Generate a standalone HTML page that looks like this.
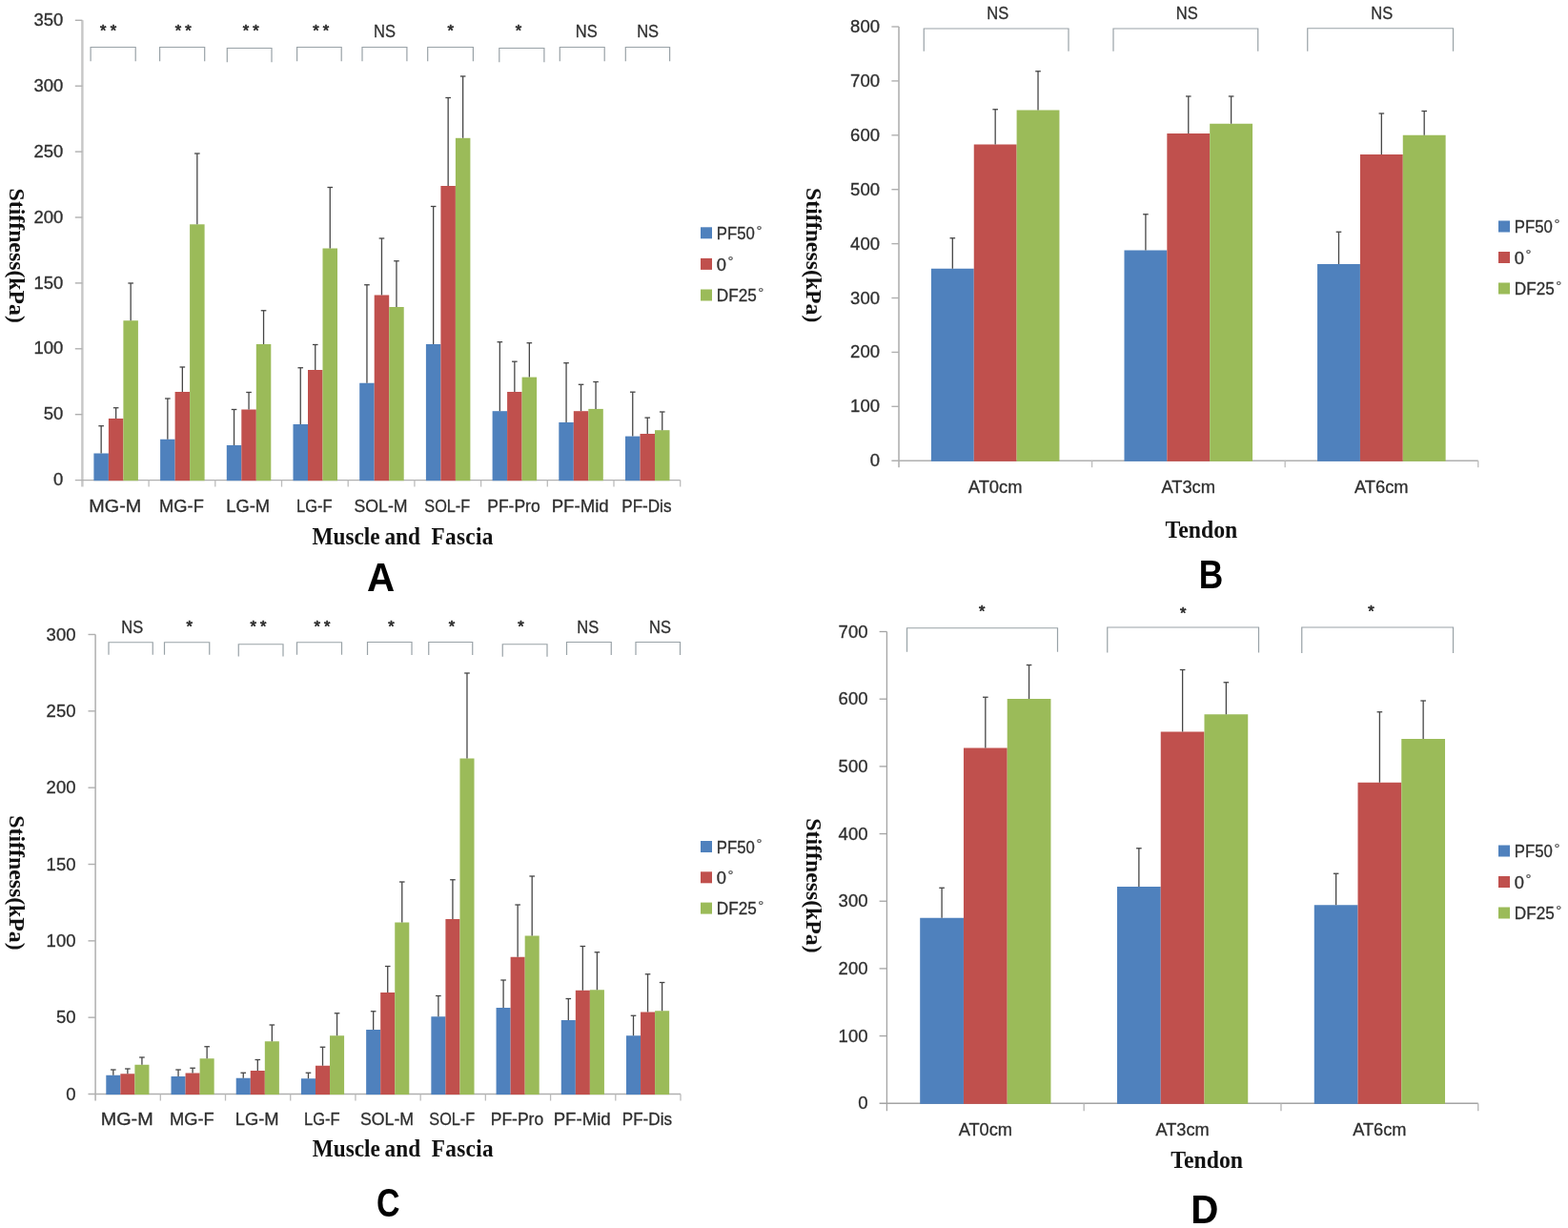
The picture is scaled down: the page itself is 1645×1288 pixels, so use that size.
<!DOCTYPE html>
<html lang="en">
<head>
<meta charset="utf-8">
<title>Stiffness of muscle, fascia and tendon at three ankle positions</title>
<style>
html,body{margin:0;padding:0;background:#fff;}
body{width:1645px;height:1288px;overflow:hidden;}
svg{display:block;filter:blur(0.55px);}
</style>
</head>
<body>
<svg width="1645" height="1288" viewBox="0 0 1645 1288">
<rect x="-5" y="-5" width="1655" height="1298" fill="#ffffff"/>
<g id="panel-A">
<line x1="86.4" y1="21.3" x2="86.4" y2="510.6" stroke="#c6c6c6" stroke-width="2.4"/>
<line x1="78.8" y1="503.6" x2="713.7" y2="503.6" stroke="#b0b0b0" stroke-width="1.4"/>
<line x1="78.8" y1="434.7" x2="86.4" y2="434.7" stroke="#b0b0b0" stroke-width="1.4"/>
<line x1="78.8" y1="365.8" x2="86.4" y2="365.8" stroke="#b0b0b0" stroke-width="1.4"/>
<line x1="78.8" y1="296.9" x2="86.4" y2="296.9" stroke="#b0b0b0" stroke-width="1.4"/>
<line x1="78.8" y1="228" x2="86.4" y2="228" stroke="#b0b0b0" stroke-width="1.4"/>
<line x1="78.8" y1="159.1" x2="86.4" y2="159.1" stroke="#b0b0b0" stroke-width="1.4"/>
<line x1="78.8" y1="90.2" x2="86.4" y2="90.2" stroke="#b0b0b0" stroke-width="1.4"/>
<line x1="78.8" y1="21.3" x2="86.4" y2="21.3" stroke="#b0b0b0" stroke-width="1.4"/>
<line x1="156.1" y1="503.6" x2="156.1" y2="510.6" stroke="#bcbcbc" stroke-width="1.3"/>
<line x1="225.8" y1="503.6" x2="225.8" y2="510.6" stroke="#bcbcbc" stroke-width="1.3"/>
<line x1="295.5" y1="503.6" x2="295.5" y2="510.6" stroke="#bcbcbc" stroke-width="1.3"/>
<line x1="365.2" y1="503.6" x2="365.2" y2="510.6" stroke="#bcbcbc" stroke-width="1.3"/>
<line x1="434.9" y1="503.6" x2="434.9" y2="510.6" stroke="#bcbcbc" stroke-width="1.3"/>
<line x1="504.6" y1="503.6" x2="504.6" y2="510.6" stroke="#bcbcbc" stroke-width="1.3"/>
<line x1="574.3" y1="503.6" x2="574.3" y2="510.6" stroke="#bcbcbc" stroke-width="1.3"/>
<line x1="644" y1="503.6" x2="644" y2="510.6" stroke="#bcbcbc" stroke-width="1.3"/>
<line x1="713.7" y1="503.6" x2="713.7" y2="510.6" stroke="#bcbcbc" stroke-width="1.3"/>
<rect x="98.4" y="475.5" width="15.5" height="28.7" fill="#4f81bd"/>
<rect x="113.9" y="439" width="15.5" height="65.2" fill="#c0504d"/>
<rect x="129.4" y="336.25" width="15.5" height="167.95" fill="#9bbb59"/>
<line x1="106.15" y1="446.75" x2="106.15" y2="475.5" stroke="#464646" stroke-width="1.3"/>
<line x1="103.35" y1="446.75" x2="108.95" y2="446.75" stroke="#464646" stroke-width="1.3"/>
<line x1="121.65" y1="427.75" x2="121.65" y2="439" stroke="#464646" stroke-width="1.3"/>
<line x1="118.85" y1="427.75" x2="124.45" y2="427.75" stroke="#464646" stroke-width="1.3"/>
<line x1="137.15" y1="297" x2="137.15" y2="336.25" stroke="#464646" stroke-width="1.3"/>
<line x1="134.35" y1="297" x2="139.95" y2="297" stroke="#464646" stroke-width="1.3"/>
<rect x="168.1" y="460.75" width="15.5" height="43.45" fill="#4f81bd"/>
<rect x="183.6" y="411" width="15.5" height="93.2" fill="#c0504d"/>
<rect x="199.1" y="235.3" width="15.5" height="268.9" fill="#9bbb59"/>
<line x1="175.85" y1="418" x2="175.85" y2="460.75" stroke="#464646" stroke-width="1.3"/>
<line x1="173.05" y1="418" x2="178.65" y2="418" stroke="#464646" stroke-width="1.3"/>
<line x1="191.35" y1="385" x2="191.35" y2="411" stroke="#464646" stroke-width="1.3"/>
<line x1="188.55" y1="385" x2="194.15" y2="385" stroke="#464646" stroke-width="1.3"/>
<line x1="206.85" y1="161" x2="206.85" y2="235.3" stroke="#464646" stroke-width="1.3"/>
<line x1="204.05" y1="161" x2="209.65" y2="161" stroke="#464646" stroke-width="1.3"/>
<rect x="237.8" y="467" width="15.5" height="37.2" fill="#4f81bd"/>
<rect x="253.3" y="429.5" width="15.5" height="74.7" fill="#c0504d"/>
<rect x="268.8" y="361" width="15.5" height="143.2" fill="#9bbb59"/>
<line x1="245.55" y1="429.5" x2="245.55" y2="467" stroke="#464646" stroke-width="1.3"/>
<line x1="242.75" y1="429.5" x2="248.35" y2="429.5" stroke="#464646" stroke-width="1.3"/>
<line x1="261.05" y1="411.5" x2="261.05" y2="429.5" stroke="#464646" stroke-width="1.3"/>
<line x1="258.25" y1="411.5" x2="263.85" y2="411.5" stroke="#464646" stroke-width="1.3"/>
<line x1="276.55" y1="325.75" x2="276.55" y2="361" stroke="#464646" stroke-width="1.3"/>
<line x1="273.75" y1="325.75" x2="279.35" y2="325.75" stroke="#464646" stroke-width="1.3"/>
<rect x="307.5" y="445" width="15.5" height="59.2" fill="#4f81bd"/>
<rect x="323" y="388" width="15.5" height="116.2" fill="#c0504d"/>
<rect x="338.5" y="260.5" width="15.5" height="243.7" fill="#9bbb59"/>
<line x1="315.25" y1="385.75" x2="315.25" y2="445" stroke="#464646" stroke-width="1.3"/>
<line x1="312.45" y1="385.75" x2="318.05" y2="385.75" stroke="#464646" stroke-width="1.3"/>
<line x1="330.75" y1="361.5" x2="330.75" y2="388" stroke="#464646" stroke-width="1.3"/>
<line x1="327.95" y1="361.5" x2="333.55" y2="361.5" stroke="#464646" stroke-width="1.3"/>
<line x1="346.25" y1="196.5" x2="346.25" y2="260.5" stroke="#464646" stroke-width="1.3"/>
<line x1="343.45" y1="196.5" x2="349.05" y2="196.5" stroke="#464646" stroke-width="1.3"/>
<rect x="377.2" y="401.75" width="15.5" height="102.45" fill="#4f81bd"/>
<rect x="392.7" y="309.5" width="15.5" height="194.7" fill="#c0504d"/>
<rect x="408.2" y="322" width="15.5" height="182.2" fill="#9bbb59"/>
<line x1="384.95" y1="298.75" x2="384.95" y2="401.75" stroke="#464646" stroke-width="1.3"/>
<line x1="382.15" y1="298.75" x2="387.75" y2="298.75" stroke="#464646" stroke-width="1.3"/>
<line x1="400.45" y1="250" x2="400.45" y2="309.5" stroke="#464646" stroke-width="1.3"/>
<line x1="397.65" y1="250" x2="403.25" y2="250" stroke="#464646" stroke-width="1.3"/>
<line x1="415.95" y1="273.75" x2="415.95" y2="322" stroke="#464646" stroke-width="1.3"/>
<line x1="413.15" y1="273.75" x2="418.75" y2="273.75" stroke="#464646" stroke-width="1.3"/>
<rect x="446.9" y="361" width="15.5" height="143.2" fill="#4f81bd"/>
<rect x="462.4" y="195" width="15.5" height="309.2" fill="#c0504d"/>
<rect x="477.9" y="144.8" width="15.5" height="359.4" fill="#9bbb59"/>
<line x1="454.65" y1="216.5" x2="454.65" y2="361" stroke="#464646" stroke-width="1.3"/>
<line x1="451.85" y1="216.5" x2="457.45" y2="216.5" stroke="#464646" stroke-width="1.3"/>
<line x1="470.15" y1="102.5" x2="470.15" y2="195" stroke="#464646" stroke-width="1.3"/>
<line x1="467.35" y1="102.5" x2="472.95" y2="102.5" stroke="#464646" stroke-width="1.3"/>
<line x1="485.65" y1="80" x2="485.65" y2="144.8" stroke="#464646" stroke-width="1.3"/>
<line x1="482.85" y1="80" x2="488.45" y2="80" stroke="#464646" stroke-width="1.3"/>
<rect x="516.6" y="431.2" width="15.5" height="73" fill="#4f81bd"/>
<rect x="532.1" y="411" width="15.5" height="93.2" fill="#c0504d"/>
<rect x="547.6" y="395.6" width="15.5" height="108.6" fill="#9bbb59"/>
<line x1="524.35" y1="358.7" x2="524.35" y2="431.2" stroke="#464646" stroke-width="1.3"/>
<line x1="521.55" y1="358.7" x2="527.15" y2="358.7" stroke="#464646" stroke-width="1.3"/>
<line x1="539.85" y1="379.2" x2="539.85" y2="411" stroke="#464646" stroke-width="1.3"/>
<line x1="537.05" y1="379.2" x2="542.65" y2="379.2" stroke="#464646" stroke-width="1.3"/>
<line x1="555.35" y1="359.7" x2="555.35" y2="395.6" stroke="#464646" stroke-width="1.3"/>
<line x1="552.55" y1="359.7" x2="558.15" y2="359.7" stroke="#464646" stroke-width="1.3"/>
<rect x="586.3" y="443" width="15.5" height="61.2" fill="#4f81bd"/>
<rect x="601.8" y="431.2" width="15.5" height="73" fill="#c0504d"/>
<rect x="617.3" y="428.9" width="15.5" height="75.3" fill="#9bbb59"/>
<line x1="594.05" y1="380.7" x2="594.05" y2="443" stroke="#464646" stroke-width="1.3"/>
<line x1="591.25" y1="380.7" x2="596.85" y2="380.7" stroke="#464646" stroke-width="1.3"/>
<line x1="609.55" y1="403.3" x2="609.55" y2="431.2" stroke="#464646" stroke-width="1.3"/>
<line x1="606.75" y1="403.3" x2="612.35" y2="403.3" stroke="#464646" stroke-width="1.3"/>
<line x1="625.05" y1="400.5" x2="625.05" y2="428.9" stroke="#464646" stroke-width="1.3"/>
<line x1="622.25" y1="400.5" x2="627.85" y2="400.5" stroke="#464646" stroke-width="1.3"/>
<rect x="656" y="457.6" width="15.5" height="46.6" fill="#4f81bd"/>
<rect x="671.5" y="455" width="15.5" height="49.2" fill="#c0504d"/>
<rect x="687" y="451.2" width="15.5" height="53" fill="#9bbb59"/>
<line x1="663.75" y1="411.2" x2="663.75" y2="457.6" stroke="#464646" stroke-width="1.3"/>
<line x1="660.95" y1="411.2" x2="666.55" y2="411.2" stroke="#464646" stroke-width="1.3"/>
<line x1="679.25" y1="438.1" x2="679.25" y2="455" stroke="#464646" stroke-width="1.3"/>
<line x1="676.45" y1="438.1" x2="682.05" y2="438.1" stroke="#464646" stroke-width="1.3"/>
<line x1="694.75" y1="432" x2="694.75" y2="451.2" stroke="#464646" stroke-width="1.3"/>
<line x1="691.95" y1="432" x2="697.55" y2="432" stroke="#464646" stroke-width="1.3"/>
<text x="66.3" y="509.2" font-family="'Liberation Sans', 'DejaVu Sans', sans-serif" font-size="18.3" font-weight="normal" text-anchor="end" fill="#2e2e2e" stroke="#2e2e2e" stroke-width="0.3" textLength="10.29" lengthAdjust="spacingAndGlyphs">0</text>
<text x="66.3" y="440.3" font-family="'Liberation Sans', 'DejaVu Sans', sans-serif" font-size="18.3" font-weight="normal" text-anchor="end" fill="#2e2e2e" stroke="#2e2e2e" stroke-width="0.3" textLength="20.58" lengthAdjust="spacingAndGlyphs">50</text>
<text x="66.3" y="371.4" font-family="'Liberation Sans', 'DejaVu Sans', sans-serif" font-size="18.3" font-weight="normal" text-anchor="end" fill="#2e2e2e" stroke="#2e2e2e" stroke-width="0.3" textLength="30.88" lengthAdjust="spacingAndGlyphs">100</text>
<text x="66.3" y="302.5" font-family="'Liberation Sans', 'DejaVu Sans', sans-serif" font-size="18.3" font-weight="normal" text-anchor="end" fill="#2e2e2e" stroke="#2e2e2e" stroke-width="0.3" textLength="30.88" lengthAdjust="spacingAndGlyphs">150</text>
<text x="66.3" y="233.6" font-family="'Liberation Sans', 'DejaVu Sans', sans-serif" font-size="18.3" font-weight="normal" text-anchor="end" fill="#2e2e2e" stroke="#2e2e2e" stroke-width="0.3" textLength="30.88" lengthAdjust="spacingAndGlyphs">200</text>
<text x="66.3" y="164.7" font-family="'Liberation Sans', 'DejaVu Sans', sans-serif" font-size="18.3" font-weight="normal" text-anchor="end" fill="#2e2e2e" stroke="#2e2e2e" stroke-width="0.3" textLength="30.88" lengthAdjust="spacingAndGlyphs">250</text>
<text x="66.3" y="95.8" font-family="'Liberation Sans', 'DejaVu Sans', sans-serif" font-size="18.3" font-weight="normal" text-anchor="end" fill="#2e2e2e" stroke="#2e2e2e" stroke-width="0.3" textLength="30.88" lengthAdjust="spacingAndGlyphs">300</text>
<text x="66.3" y="26.9" font-family="'Liberation Sans', 'DejaVu Sans', sans-serif" font-size="18.3" font-weight="normal" text-anchor="end" fill="#2e2e2e" stroke="#2e2e2e" stroke-width="0.3" textLength="30.88" lengthAdjust="spacingAndGlyphs">350</text>
<text x="120.75" y="536.9" font-family="'Liberation Sans', 'DejaVu Sans', sans-serif" font-size="18.3" font-weight="normal" text-anchor="middle" fill="#2e2e2e" stroke="#2e2e2e" stroke-width="0.3" textLength="54.93" lengthAdjust="spacingAndGlyphs">MG-M</text>
<text x="190.45" y="536.9" font-family="'Liberation Sans', 'DejaVu Sans', sans-serif" font-size="18.3" font-weight="normal" text-anchor="middle" fill="#2e2e2e" stroke="#2e2e2e" stroke-width="0.3" textLength="46.71" lengthAdjust="spacingAndGlyphs">MG-F</text>
<text x="260.15" y="536.9" font-family="'Liberation Sans', 'DejaVu Sans', sans-serif" font-size="18.3" font-weight="normal" text-anchor="middle" fill="#2e2e2e" stroke="#2e2e2e" stroke-width="0.3" textLength="45.9" lengthAdjust="spacingAndGlyphs">LG-M</text>
<text x="329.85" y="536.9" font-family="'Liberation Sans', 'DejaVu Sans', sans-serif" font-size="18.3" font-weight="normal" text-anchor="middle" fill="#2e2e2e" stroke="#2e2e2e" stroke-width="0.3" textLength="37.68" lengthAdjust="spacingAndGlyphs">LG-F</text>
<text x="399.55" y="536.9" font-family="'Liberation Sans', 'DejaVu Sans', sans-serif" font-size="18.3" font-weight="normal" text-anchor="middle" fill="#2e2e2e" stroke="#2e2e2e" stroke-width="0.3" textLength="56.07" lengthAdjust="spacingAndGlyphs">SOL-M</text>
<text x="469.25" y="536.9" font-family="'Liberation Sans', 'DejaVu Sans', sans-serif" font-size="18.3" font-weight="normal" text-anchor="middle" fill="#2e2e2e" stroke="#2e2e2e" stroke-width="0.3" textLength="47.85" lengthAdjust="spacingAndGlyphs">SOL-F</text>
<text x="538.95" y="536.9" font-family="'Liberation Sans', 'DejaVu Sans', sans-serif" font-size="18.3" font-weight="normal" text-anchor="middle" fill="#2e2e2e" stroke="#2e2e2e" stroke-width="0.3" textLength="55.51" lengthAdjust="spacingAndGlyphs">PF-Pro</text>
<text x="608.65" y="536.9" font-family="'Liberation Sans', 'DejaVu Sans', sans-serif" font-size="18.3" font-weight="normal" text-anchor="middle" fill="#2e2e2e" stroke="#2e2e2e" stroke-width="0.3" textLength="59.99" lengthAdjust="spacingAndGlyphs">PF-Mid</text>
<text x="678.35" y="536.9" font-family="'Liberation Sans', 'DejaVu Sans', sans-serif" font-size="18.3" font-weight="normal" text-anchor="middle" fill="#2e2e2e" stroke="#2e2e2e" stroke-width="0.3" textLength="52.23" lengthAdjust="spacingAndGlyphs">PF-Dis</text>
<path d="M95.1 64.3 V49.5 H142.2 V64.3" fill="none" stroke="#99a2a7" stroke-width="1.2"/>
<text x="108.3 118.9" y="37.6" font-family="'Liberation Sans', 'DejaVu Sans', sans-serif" font-size="16.5" text-anchor="middle" fill="#2e2e2e" stroke="#2e2e2e" stroke-width="0.7">**</text>
<path d="M167.6 64.3 V49.5 H214.7 V64.3" fill="none" stroke="#99a2a7" stroke-width="1.2"/>
<text x="186.9 197.5" y="37.6" font-family="'Liberation Sans', 'DejaVu Sans', sans-serif" font-size="16.5" text-anchor="middle" fill="#2e2e2e" stroke="#2e2e2e" stroke-width="0.7">**</text>
<path d="M238.3 65.3 V50.5 H285 V65.3" fill="none" stroke="#99a2a7" stroke-width="1.2"/>
<text x="257.9 268.5" y="37.6" font-family="'Liberation Sans', 'DejaVu Sans', sans-serif" font-size="16.5" text-anchor="middle" fill="#2e2e2e" stroke="#2e2e2e" stroke-width="0.7">**</text>
<path d="M311.6 64.3 V49.5 H358.2 V64.3" fill="none" stroke="#99a2a7" stroke-width="1.2"/>
<text x="331.4 342" y="37.6" font-family="'Liberation Sans', 'DejaVu Sans', sans-serif" font-size="16.5" text-anchor="middle" fill="#2e2e2e" stroke="#2e2e2e" stroke-width="0.7">**</text>
<path d="M380 64.3 V49.5 H426.9 V64.3" fill="none" stroke="#99a2a7" stroke-width="1.2"/>
<text x="403.5" y="39" font-family="'Liberation Sans', 'DejaVu Sans', sans-serif" font-size="18.3" font-weight="normal" text-anchor="middle" fill="#2e2e2e" stroke="#2e2e2e" stroke-width="0.3" textLength="22.93" lengthAdjust="spacingAndGlyphs">NS</text>
<path d="M448.7 64.3 V49.5 H496.4 V64.3" fill="none" stroke="#99a2a7" stroke-width="1.2"/>
<text x="472.8" y="37.6" font-family="'Liberation Sans', 'DejaVu Sans', sans-serif" font-size="16.5" text-anchor="middle" fill="#2e2e2e" stroke="#2e2e2e" stroke-width="0.7">*</text>
<path d="M523.8 65.3 V50.5 H570.9 V65.3" fill="none" stroke="#99a2a7" stroke-width="1.2"/>
<text x="544" y="37.6" font-family="'Liberation Sans', 'DejaVu Sans', sans-serif" font-size="16.5" text-anchor="middle" fill="#2e2e2e" stroke="#2e2e2e" stroke-width="0.7">*</text>
<path d="M587.3 64.3 V49.5 H634.2 V64.3" fill="none" stroke="#99a2a7" stroke-width="1.2"/>
<text x="615.3" y="39" font-family="'Liberation Sans', 'DejaVu Sans', sans-serif" font-size="18.3" font-weight="normal" text-anchor="middle" fill="#2e2e2e" stroke="#2e2e2e" stroke-width="0.3" textLength="22.93" lengthAdjust="spacingAndGlyphs">NS</text>
<path d="M656.3 64.3 V49.5 H702.6 V64.3" fill="none" stroke="#99a2a7" stroke-width="1.2"/>
<text x="679.6" y="39" font-family="'Liberation Sans', 'DejaVu Sans', sans-serif" font-size="18.3" font-weight="normal" text-anchor="middle" fill="#2e2e2e" stroke="#2e2e2e" stroke-width="0.3" textLength="22.93" lengthAdjust="spacingAndGlyphs">NS</text>
<rect x="735" y="238.3" width="12" height="12" fill="#4f81bd"/>
<text x="751.8" y="251.1" font-family="'Liberation Sans', 'DejaVu Sans', sans-serif" font-size="17.7" fill="#2e2e2e" stroke="#2e2e2e" stroke-width="0.3"><tspan textLength="40" lengthAdjust="spacingAndGlyphs">PF50</tspan><tspan dx="1.6" dy="-4.6" font-size="15" fill="#555" stroke="#555">°</tspan></text>
<rect x="735" y="270.9" width="12" height="12" fill="#c0504d"/>
<text x="751.8" y="283.7" font-family="'Liberation Sans', 'DejaVu Sans', sans-serif" font-size="17.7" fill="#2e2e2e" stroke="#2e2e2e" stroke-width="0.3"><tspan textLength="10.19" lengthAdjust="spacingAndGlyphs">0</tspan><tspan dx="1.6" dy="-4.6" font-size="15" fill="#555" stroke="#555">°</tspan></text>
<rect x="735" y="303.5" width="12" height="12" fill="#9bbb59"/>
<text x="751.8" y="316.3" font-family="'Liberation Sans', 'DejaVu Sans', sans-serif" font-size="17.7" fill="#2e2e2e" stroke="#2e2e2e" stroke-width="0.3"><tspan textLength="41.97" lengthAdjust="spacingAndGlyphs">DF25</tspan><tspan dx="1.6" dy="-4.6" font-size="15" fill="#555" stroke="#555">°</tspan></text>
<text transform="translate(327.6 570.5) scale(0.95 1)" font-family="'Liberation Serif', 'DejaVu Serif', serif" font-size="24.5" font-weight="bold" fill="#111" xml:space="preserve" style="white-space:pre">Muscle<tspan dx="-1.1"> and</tspan><tspan dx="-0.8" letter-spacing="0.36">  Fascia</tspan></text>
<text transform="translate(9.6 268.2) rotate(90)" font-family="'Liberation Serif', 'DejaVu Serif', serif" font-size="23.3" font-weight="bold" fill="#111" text-anchor="middle" textLength="141.3" lengthAdjust="spacingAndGlyphs">Stiffness(kPa)</text>
<text transform="translate(399.5 620.1) scale(0.95 1)" font-family="'Liberation Sans', 'DejaVu Sans', sans-serif" font-size="42.5" font-weight="bold" text-anchor="middle" fill="#000">A</text>
</g>
<g id="panel-B">
<line x1="943" y1="28" x2="943" y2="490.25" stroke="#c0c0c0" stroke-width="2"/>
<line x1="935.4" y1="483.25" x2="1550.75" y2="483.25" stroke="#b0b0b0" stroke-width="1.4"/>
<line x1="935.4" y1="426.34" x2="943" y2="426.34" stroke="#b0b0b0" stroke-width="1.4"/>
<line x1="935.4" y1="369.44" x2="943" y2="369.44" stroke="#b0b0b0" stroke-width="1.4"/>
<line x1="935.4" y1="312.53" x2="943" y2="312.53" stroke="#b0b0b0" stroke-width="1.4"/>
<line x1="935.4" y1="255.62" x2="943" y2="255.62" stroke="#b0b0b0" stroke-width="1.4"/>
<line x1="935.4" y1="198.72" x2="943" y2="198.72" stroke="#b0b0b0" stroke-width="1.4"/>
<line x1="935.4" y1="141.81" x2="943" y2="141.81" stroke="#b0b0b0" stroke-width="1.4"/>
<line x1="935.4" y1="84.91" x2="943" y2="84.91" stroke="#b0b0b0" stroke-width="1.4"/>
<line x1="935.4" y1="28" x2="943" y2="28" stroke="#b0b0b0" stroke-width="1.4"/>
<line x1="1145.58" y1="483.25" x2="1145.58" y2="490.25" stroke="#bcbcbc" stroke-width="1.3"/>
<line x1="1348.17" y1="483.25" x2="1348.17" y2="490.25" stroke="#bcbcbc" stroke-width="1.3"/>
<line x1="1550.75" y1="483.25" x2="1550.75" y2="490.25" stroke="#bcbcbc" stroke-width="1.3"/>
<rect x="976.9" y="281.75" width="44.85" height="202.1" fill="#4f81bd"/>
<rect x="1021.75" y="151.5" width="44.85" height="332.35" fill="#c0504d"/>
<rect x="1066.6" y="115.5" width="44.85" height="368.35" fill="#9bbb59"/>
<line x1="999.32" y1="249.75" x2="999.32" y2="281.75" stroke="#464646" stroke-width="1.3"/>
<line x1="996.52" y1="249.75" x2="1002.12" y2="249.75" stroke="#464646" stroke-width="1.3"/>
<line x1="1044.17" y1="114.75" x2="1044.17" y2="151.5" stroke="#464646" stroke-width="1.3"/>
<line x1="1041.38" y1="114.75" x2="1046.97" y2="114.75" stroke="#464646" stroke-width="1.3"/>
<line x1="1089.02" y1="74.75" x2="1089.02" y2="115.5" stroke="#464646" stroke-width="1.3"/>
<line x1="1086.22" y1="74.75" x2="1091.82" y2="74.75" stroke="#464646" stroke-width="1.3"/>
<rect x="1179.48" y="262.5" width="44.85" height="221.35" fill="#4f81bd"/>
<rect x="1224.33" y="140" width="44.85" height="343.85" fill="#c0504d"/>
<rect x="1269.18" y="129.75" width="44.85" height="354.1" fill="#9bbb59"/>
<line x1="1201.91" y1="224.75" x2="1201.91" y2="262.5" stroke="#464646" stroke-width="1.3"/>
<line x1="1199.11" y1="224.75" x2="1204.71" y2="224.75" stroke="#464646" stroke-width="1.3"/>
<line x1="1246.76" y1="101" x2="1246.76" y2="140" stroke="#464646" stroke-width="1.3"/>
<line x1="1243.96" y1="101" x2="1249.56" y2="101" stroke="#464646" stroke-width="1.3"/>
<line x1="1291.61" y1="101" x2="1291.61" y2="129.75" stroke="#464646" stroke-width="1.3"/>
<line x1="1288.81" y1="101" x2="1294.41" y2="101" stroke="#464646" stroke-width="1.3"/>
<rect x="1382.07" y="277" width="44.85" height="206.85" fill="#4f81bd"/>
<rect x="1426.92" y="162" width="44.85" height="321.85" fill="#c0504d"/>
<rect x="1471.77" y="141.75" width="44.85" height="342.1" fill="#9bbb59"/>
<line x1="1404.49" y1="243.25" x2="1404.49" y2="277" stroke="#464646" stroke-width="1.3"/>
<line x1="1401.69" y1="243.25" x2="1407.29" y2="243.25" stroke="#464646" stroke-width="1.3"/>
<line x1="1449.34" y1="119" x2="1449.34" y2="162" stroke="#464646" stroke-width="1.3"/>
<line x1="1446.54" y1="119" x2="1452.14" y2="119" stroke="#464646" stroke-width="1.3"/>
<line x1="1494.19" y1="116.5" x2="1494.19" y2="141.75" stroke="#464646" stroke-width="1.3"/>
<line x1="1491.39" y1="116.5" x2="1496.99" y2="116.5" stroke="#464646" stroke-width="1.3"/>
<text x="923" y="489.25" font-family="'Liberation Sans', 'DejaVu Sans', sans-serif" font-size="18.3" font-weight="normal" text-anchor="end" fill="#2e2e2e" stroke="#2e2e2e" stroke-width="0.3" textLength="10.29" lengthAdjust="spacingAndGlyphs">0</text>
<text x="923" y="432.34" font-family="'Liberation Sans', 'DejaVu Sans', sans-serif" font-size="18.3" font-weight="normal" text-anchor="end" fill="#2e2e2e" stroke="#2e2e2e" stroke-width="0.3" textLength="30.88" lengthAdjust="spacingAndGlyphs">100</text>
<text x="923" y="375.44" font-family="'Liberation Sans', 'DejaVu Sans', sans-serif" font-size="18.3" font-weight="normal" text-anchor="end" fill="#2e2e2e" stroke="#2e2e2e" stroke-width="0.3" textLength="30.88" lengthAdjust="spacingAndGlyphs">200</text>
<text x="923" y="318.53" font-family="'Liberation Sans', 'DejaVu Sans', sans-serif" font-size="18.3" font-weight="normal" text-anchor="end" fill="#2e2e2e" stroke="#2e2e2e" stroke-width="0.3" textLength="30.88" lengthAdjust="spacingAndGlyphs">300</text>
<text x="923" y="261.62" font-family="'Liberation Sans', 'DejaVu Sans', sans-serif" font-size="18.3" font-weight="normal" text-anchor="end" fill="#2e2e2e" stroke="#2e2e2e" stroke-width="0.3" textLength="30.88" lengthAdjust="spacingAndGlyphs">400</text>
<text x="923" y="204.72" font-family="'Liberation Sans', 'DejaVu Sans', sans-serif" font-size="18.3" font-weight="normal" text-anchor="end" fill="#2e2e2e" stroke="#2e2e2e" stroke-width="0.3" textLength="30.88" lengthAdjust="spacingAndGlyphs">500</text>
<text x="923" y="147.81" font-family="'Liberation Sans', 'DejaVu Sans', sans-serif" font-size="18.3" font-weight="normal" text-anchor="end" fill="#2e2e2e" stroke="#2e2e2e" stroke-width="0.3" textLength="30.88" lengthAdjust="spacingAndGlyphs">600</text>
<text x="923" y="90.91" font-family="'Liberation Sans', 'DejaVu Sans', sans-serif" font-size="18.3" font-weight="normal" text-anchor="end" fill="#2e2e2e" stroke="#2e2e2e" stroke-width="0.3" textLength="30.88" lengthAdjust="spacingAndGlyphs">700</text>
<text x="923" y="34" font-family="'Liberation Sans', 'DejaVu Sans', sans-serif" font-size="18.3" font-weight="normal" text-anchor="end" fill="#2e2e2e" stroke="#2e2e2e" stroke-width="0.3" textLength="30.88" lengthAdjust="spacingAndGlyphs">800</text>
<text x="1044.09" y="517.4" font-family="'Liberation Sans', 'DejaVu Sans', sans-serif" font-size="18.3" font-weight="normal" text-anchor="middle" fill="#2e2e2e" stroke="#2e2e2e" stroke-width="0.3" textLength="56.55" lengthAdjust="spacingAndGlyphs">AT0cm</text>
<text x="1246.67" y="517.4" font-family="'Liberation Sans', 'DejaVu Sans', sans-serif" font-size="18.3" font-weight="normal" text-anchor="middle" fill="#2e2e2e" stroke="#2e2e2e" stroke-width="0.3" textLength="56.55" lengthAdjust="spacingAndGlyphs">AT3cm</text>
<text x="1449.26" y="517.4" font-family="'Liberation Sans', 'DejaVu Sans', sans-serif" font-size="18.3" font-weight="normal" text-anchor="middle" fill="#2e2e2e" stroke="#2e2e2e" stroke-width="0.3" textLength="56.55" lengthAdjust="spacingAndGlyphs">AT6cm</text>
<path d="M969.25 53.75 V30 H1121 V53.75" fill="none" stroke="#99a2a7" stroke-width="1.2"/>
<text x="1046.75" y="19.5" font-family="'Liberation Sans', 'DejaVu Sans', sans-serif" font-size="18.3" font-weight="normal" text-anchor="middle" fill="#2e2e2e" stroke="#2e2e2e" stroke-width="0.3" textLength="22.93" lengthAdjust="spacingAndGlyphs">NS</text>
<path d="M1168 53.75 V30 H1319.75 V53.75" fill="none" stroke="#99a2a7" stroke-width="1.2"/>
<text x="1245.3" y="19.5" font-family="'Liberation Sans', 'DejaVu Sans', sans-serif" font-size="18.3" font-weight="normal" text-anchor="middle" fill="#2e2e2e" stroke="#2e2e2e" stroke-width="0.3" textLength="22.93" lengthAdjust="spacingAndGlyphs">NS</text>
<path d="M1371.75 53.75 V29.75 H1524.5 V53.75" fill="none" stroke="#99a2a7" stroke-width="1.2"/>
<text x="1449.75" y="19.5" font-family="'Liberation Sans', 'DejaVu Sans', sans-serif" font-size="18.3" font-weight="normal" text-anchor="middle" fill="#2e2e2e" stroke="#2e2e2e" stroke-width="0.3" textLength="22.93" lengthAdjust="spacingAndGlyphs">NS</text>
<rect x="1572" y="231.5" width="12" height="12" fill="#4f81bd"/>
<text x="1588.8" y="244.3" font-family="'Liberation Sans', 'DejaVu Sans', sans-serif" font-size="17.7" fill="#2e2e2e" stroke="#2e2e2e" stroke-width="0.3"><tspan textLength="40" lengthAdjust="spacingAndGlyphs">PF50</tspan><tspan dx="1.6" dy="-4.6" font-size="15" fill="#555" stroke="#555">°</tspan></text>
<rect x="1572" y="264" width="12" height="12" fill="#c0504d"/>
<text x="1588.8" y="276.8" font-family="'Liberation Sans', 'DejaVu Sans', sans-serif" font-size="17.7" fill="#2e2e2e" stroke="#2e2e2e" stroke-width="0.3"><tspan textLength="10.19" lengthAdjust="spacingAndGlyphs">0</tspan><tspan dx="1.6" dy="-4.6" font-size="15" fill="#555" stroke="#555">°</tspan></text>
<rect x="1572" y="296.5" width="12" height="12" fill="#9bbb59"/>
<text x="1588.8" y="309.3" font-family="'Liberation Sans', 'DejaVu Sans', sans-serif" font-size="17.7" fill="#2e2e2e" stroke="#2e2e2e" stroke-width="0.3"><tspan textLength="41.97" lengthAdjust="spacingAndGlyphs">DF25</tspan><tspan dx="1.6" dy="-4.6" font-size="15" fill="#555" stroke="#555">°</tspan></text>
<text transform="translate(1222.5 563.7) scale(0.97 1)" font-family="'Liberation Serif', 'DejaVu Serif', serif" font-size="24.5" font-weight="bold" fill="#111" xml:space="preserve" style="white-space:pre">Tendon</text>
<text transform="translate(846 267.7) rotate(90)" font-family="'Liberation Serif', 'DejaVu Serif', serif" font-size="23.3" font-weight="bold" fill="#111" text-anchor="middle" textLength="141.3" lengthAdjust="spacingAndGlyphs">Stiffness(kPa)</text>
<text transform="translate(1270.4 617) scale(0.83 1)" font-family="'Liberation Sans', 'DejaVu Sans', sans-serif" font-size="42.5" font-weight="bold" text-anchor="middle" fill="#000">B</text>
</g>
<g id="panel-C">
<line x1="100.1" y1="665.5" x2="100.1" y2="1154.5" stroke="#b8b8b8" stroke-width="1.7"/>
<line x1="92.5" y1="1147.5" x2="714" y2="1147.5" stroke="#b0b0b0" stroke-width="1.4"/>
<line x1="92.5" y1="1067.17" x2="100.1" y2="1067.17" stroke="#b0b0b0" stroke-width="1.4"/>
<line x1="92.5" y1="986.83" x2="100.1" y2="986.83" stroke="#b0b0b0" stroke-width="1.4"/>
<line x1="92.5" y1="906.5" x2="100.1" y2="906.5" stroke="#b0b0b0" stroke-width="1.4"/>
<line x1="92.5" y1="826.17" x2="100.1" y2="826.17" stroke="#b0b0b0" stroke-width="1.4"/>
<line x1="92.5" y1="745.83" x2="100.1" y2="745.83" stroke="#b0b0b0" stroke-width="1.4"/>
<line x1="92.5" y1="665.5" x2="100.1" y2="665.5" stroke="#b0b0b0" stroke-width="1.4"/>
<line x1="168.31" y1="1147.5" x2="168.31" y2="1154.5" stroke="#bcbcbc" stroke-width="1.3"/>
<line x1="236.52" y1="1147.5" x2="236.52" y2="1154.5" stroke="#bcbcbc" stroke-width="1.3"/>
<line x1="304.73" y1="1147.5" x2="304.73" y2="1154.5" stroke="#bcbcbc" stroke-width="1.3"/>
<line x1="372.94" y1="1147.5" x2="372.94" y2="1154.5" stroke="#bcbcbc" stroke-width="1.3"/>
<line x1="441.16" y1="1147.5" x2="441.16" y2="1154.5" stroke="#bcbcbc" stroke-width="1.3"/>
<line x1="509.37" y1="1147.5" x2="509.37" y2="1154.5" stroke="#bcbcbc" stroke-width="1.3"/>
<line x1="577.58" y1="1147.5" x2="577.58" y2="1154.5" stroke="#bcbcbc" stroke-width="1.3"/>
<line x1="645.79" y1="1147.5" x2="645.79" y2="1154.5" stroke="#bcbcbc" stroke-width="1.3"/>
<line x1="714" y1="1147.5" x2="714" y2="1154.5" stroke="#bcbcbc" stroke-width="1.3"/>
<rect x="111.3" y="1127.75" width="15.05" height="20.35" fill="#4f81bd"/>
<rect x="126.35" y="1126.25" width="15.05" height="21.85" fill="#c0504d"/>
<rect x="141.4" y="1116.75" width="15.05" height="31.35" fill="#9bbb59"/>
<line x1="118.83" y1="1122" x2="118.83" y2="1127.75" stroke="#464646" stroke-width="1.3"/>
<line x1="116.03" y1="1122" x2="121.62" y2="1122" stroke="#464646" stroke-width="1.3"/>
<line x1="133.88" y1="1121" x2="133.88" y2="1126.25" stroke="#464646" stroke-width="1.3"/>
<line x1="131.07" y1="1121" x2="136.68" y2="1121" stroke="#464646" stroke-width="1.3"/>
<line x1="148.93" y1="1109" x2="148.93" y2="1116.75" stroke="#464646" stroke-width="1.3"/>
<line x1="146.12" y1="1109" x2="151.73" y2="1109" stroke="#464646" stroke-width="1.3"/>
<rect x="179.51" y="1129" width="15.05" height="19.1" fill="#4f81bd"/>
<rect x="194.56" y="1125.5" width="15.05" height="22.6" fill="#c0504d"/>
<rect x="209.61" y="1110.25" width="15.05" height="37.85" fill="#9bbb59"/>
<line x1="187.04" y1="1122" x2="187.04" y2="1129" stroke="#464646" stroke-width="1.3"/>
<line x1="184.24" y1="1122" x2="189.84" y2="1122" stroke="#464646" stroke-width="1.3"/>
<line x1="202.09" y1="1120.25" x2="202.09" y2="1125.5" stroke="#464646" stroke-width="1.3"/>
<line x1="199.29" y1="1120.25" x2="204.89" y2="1120.25" stroke="#464646" stroke-width="1.3"/>
<line x1="217.14" y1="1097.75" x2="217.14" y2="1110.25" stroke="#464646" stroke-width="1.3"/>
<line x1="214.34" y1="1097.75" x2="219.94" y2="1097.75" stroke="#464646" stroke-width="1.3"/>
<rect x="247.72" y="1130.75" width="15.05" height="17.35" fill="#4f81bd"/>
<rect x="262.77" y="1123" width="15.05" height="25.1" fill="#c0504d"/>
<rect x="277.82" y="1092.25" width="15.05" height="55.85" fill="#9bbb59"/>
<line x1="255.25" y1="1125.25" x2="255.25" y2="1130.75" stroke="#464646" stroke-width="1.3"/>
<line x1="252.45" y1="1125.25" x2="258.05" y2="1125.25" stroke="#464646" stroke-width="1.3"/>
<line x1="270.3" y1="1111.5" x2="270.3" y2="1123" stroke="#464646" stroke-width="1.3"/>
<line x1="267.5" y1="1111.5" x2="273.1" y2="1111.5" stroke="#464646" stroke-width="1.3"/>
<line x1="285.35" y1="1075" x2="285.35" y2="1092.25" stroke="#464646" stroke-width="1.3"/>
<line x1="282.55" y1="1075" x2="288.15" y2="1075" stroke="#464646" stroke-width="1.3"/>
<rect x="315.93" y="1131.25" width="15.05" height="16.85" fill="#4f81bd"/>
<rect x="330.98" y="1117.75" width="15.05" height="30.35" fill="#c0504d"/>
<rect x="346.03" y="1086.25" width="15.05" height="61.85" fill="#9bbb59"/>
<line x1="323.46" y1="1125.25" x2="323.46" y2="1131.25" stroke="#464646" stroke-width="1.3"/>
<line x1="320.66" y1="1125.25" x2="326.26" y2="1125.25" stroke="#464646" stroke-width="1.3"/>
<line x1="338.51" y1="1098.25" x2="338.51" y2="1117.75" stroke="#464646" stroke-width="1.3"/>
<line x1="335.71" y1="1098.25" x2="341.31" y2="1098.25" stroke="#464646" stroke-width="1.3"/>
<line x1="353.56" y1="1062.75" x2="353.56" y2="1086.25" stroke="#464646" stroke-width="1.3"/>
<line x1="350.76" y1="1062.75" x2="356.36" y2="1062.75" stroke="#464646" stroke-width="1.3"/>
<rect x="384.14" y="1080" width="15.05" height="68.1" fill="#4f81bd"/>
<rect x="399.19" y="1041" width="15.05" height="107.1" fill="#c0504d"/>
<rect x="414.24" y="967.5" width="15.05" height="180.6" fill="#9bbb59"/>
<line x1="391.67" y1="1060.75" x2="391.67" y2="1080" stroke="#464646" stroke-width="1.3"/>
<line x1="388.87" y1="1060.75" x2="394.47" y2="1060.75" stroke="#464646" stroke-width="1.3"/>
<line x1="406.72" y1="1013.5" x2="406.72" y2="1041" stroke="#464646" stroke-width="1.3"/>
<line x1="403.92" y1="1013.5" x2="409.52" y2="1013.5" stroke="#464646" stroke-width="1.3"/>
<line x1="421.77" y1="925" x2="421.77" y2="967.5" stroke="#464646" stroke-width="1.3"/>
<line x1="418.97" y1="925" x2="424.57" y2="925" stroke="#464646" stroke-width="1.3"/>
<rect x="452.36" y="1066.25" width="15.05" height="81.85" fill="#4f81bd"/>
<rect x="467.41" y="964" width="15.05" height="184.1" fill="#c0504d"/>
<rect x="482.46" y="795.5" width="15.05" height="352.6" fill="#9bbb59"/>
<line x1="459.88" y1="1044.5" x2="459.88" y2="1066.25" stroke="#464646" stroke-width="1.3"/>
<line x1="457.08" y1="1044.5" x2="462.68" y2="1044.5" stroke="#464646" stroke-width="1.3"/>
<line x1="474.93" y1="922.75" x2="474.93" y2="964" stroke="#464646" stroke-width="1.3"/>
<line x1="472.13" y1="922.75" x2="477.73" y2="922.75" stroke="#464646" stroke-width="1.3"/>
<line x1="489.98" y1="706" x2="489.98" y2="795.5" stroke="#464646" stroke-width="1.3"/>
<line x1="487.18" y1="706" x2="492.78" y2="706" stroke="#464646" stroke-width="1.3"/>
<rect x="520.57" y="1057" width="15.05" height="91.1" fill="#4f81bd"/>
<rect x="535.62" y="1003.75" width="15.05" height="144.35" fill="#c0504d"/>
<rect x="550.67" y="981.5" width="15.05" height="166.6" fill="#9bbb59"/>
<line x1="528.09" y1="1028" x2="528.09" y2="1057" stroke="#464646" stroke-width="1.3"/>
<line x1="525.29" y1="1028" x2="530.89" y2="1028" stroke="#464646" stroke-width="1.3"/>
<line x1="543.14" y1="949" x2="543.14" y2="1003.75" stroke="#464646" stroke-width="1.3"/>
<line x1="540.34" y1="949" x2="545.94" y2="949" stroke="#464646" stroke-width="1.3"/>
<line x1="558.19" y1="919" x2="558.19" y2="981.5" stroke="#464646" stroke-width="1.3"/>
<line x1="555.39" y1="919" x2="560.99" y2="919" stroke="#464646" stroke-width="1.3"/>
<rect x="588.78" y="1070" width="15.05" height="78.1" fill="#4f81bd"/>
<rect x="603.83" y="1038.75" width="15.05" height="109.35" fill="#c0504d"/>
<rect x="618.88" y="1038.25" width="15.05" height="109.85" fill="#9bbb59"/>
<line x1="596.3" y1="1047.5" x2="596.3" y2="1070" stroke="#464646" stroke-width="1.3"/>
<line x1="593.5" y1="1047.5" x2="599.1" y2="1047.5" stroke="#464646" stroke-width="1.3"/>
<line x1="611.35" y1="992.5" x2="611.35" y2="1038.75" stroke="#464646" stroke-width="1.3"/>
<line x1="608.55" y1="992.5" x2="614.15" y2="992.5" stroke="#464646" stroke-width="1.3"/>
<line x1="626.4" y1="998.75" x2="626.4" y2="1038.25" stroke="#464646" stroke-width="1.3"/>
<line x1="623.6" y1="998.75" x2="629.2" y2="998.75" stroke="#464646" stroke-width="1.3"/>
<rect x="656.99" y="1086.25" width="15.05" height="61.85" fill="#4f81bd"/>
<rect x="672.04" y="1061.5" width="15.05" height="86.6" fill="#c0504d"/>
<rect x="687.09" y="1060.25" width="15.05" height="87.85" fill="#9bbb59"/>
<line x1="664.51" y1="1065.25" x2="664.51" y2="1086.25" stroke="#464646" stroke-width="1.3"/>
<line x1="661.71" y1="1065.25" x2="667.31" y2="1065.25" stroke="#464646" stroke-width="1.3"/>
<line x1="679.56" y1="1021.75" x2="679.56" y2="1061.5" stroke="#464646" stroke-width="1.3"/>
<line x1="676.76" y1="1021.75" x2="682.36" y2="1021.75" stroke="#464646" stroke-width="1.3"/>
<line x1="694.61" y1="1030.5" x2="694.61" y2="1060.25" stroke="#464646" stroke-width="1.3"/>
<line x1="691.81" y1="1030.5" x2="697.41" y2="1030.5" stroke="#464646" stroke-width="1.3"/>
<text x="79.5" y="1153.5" font-family="'Liberation Sans', 'DejaVu Sans', sans-serif" font-size="18.3" font-weight="normal" text-anchor="end" fill="#2e2e2e" stroke="#2e2e2e" stroke-width="0.3" textLength="10.29" lengthAdjust="spacingAndGlyphs">0</text>
<text x="79.5" y="1073.17" font-family="'Liberation Sans', 'DejaVu Sans', sans-serif" font-size="18.3" font-weight="normal" text-anchor="end" fill="#2e2e2e" stroke="#2e2e2e" stroke-width="0.3" textLength="20.58" lengthAdjust="spacingAndGlyphs">50</text>
<text x="79.5" y="992.83" font-family="'Liberation Sans', 'DejaVu Sans', sans-serif" font-size="18.3" font-weight="normal" text-anchor="end" fill="#2e2e2e" stroke="#2e2e2e" stroke-width="0.3" textLength="30.88" lengthAdjust="spacingAndGlyphs">100</text>
<text x="79.5" y="912.5" font-family="'Liberation Sans', 'DejaVu Sans', sans-serif" font-size="18.3" font-weight="normal" text-anchor="end" fill="#2e2e2e" stroke="#2e2e2e" stroke-width="0.3" textLength="30.88" lengthAdjust="spacingAndGlyphs">150</text>
<text x="79.5" y="832.17" font-family="'Liberation Sans', 'DejaVu Sans', sans-serif" font-size="18.3" font-weight="normal" text-anchor="end" fill="#2e2e2e" stroke="#2e2e2e" stroke-width="0.3" textLength="30.88" lengthAdjust="spacingAndGlyphs">200</text>
<text x="79.5" y="751.83" font-family="'Liberation Sans', 'DejaVu Sans', sans-serif" font-size="18.3" font-weight="normal" text-anchor="end" fill="#2e2e2e" stroke="#2e2e2e" stroke-width="0.3" textLength="30.88" lengthAdjust="spacingAndGlyphs">250</text>
<text x="79.5" y="671.5" font-family="'Liberation Sans', 'DejaVu Sans', sans-serif" font-size="18.3" font-weight="normal" text-anchor="end" fill="#2e2e2e" stroke="#2e2e2e" stroke-width="0.3" textLength="30.88" lengthAdjust="spacingAndGlyphs">300</text>
<text x="133.21" y="1179.6" font-family="'Liberation Sans', 'DejaVu Sans', sans-serif" font-size="18.3" font-weight="normal" text-anchor="middle" fill="#2e2e2e" stroke="#2e2e2e" stroke-width="0.3" textLength="54.93" lengthAdjust="spacingAndGlyphs">MG-M</text>
<text x="201.42" y="1179.6" font-family="'Liberation Sans', 'DejaVu Sans', sans-serif" font-size="18.3" font-weight="normal" text-anchor="middle" fill="#2e2e2e" stroke="#2e2e2e" stroke-width="0.3" textLength="46.71" lengthAdjust="spacingAndGlyphs">MG-F</text>
<text x="269.63" y="1179.6" font-family="'Liberation Sans', 'DejaVu Sans', sans-serif" font-size="18.3" font-weight="normal" text-anchor="middle" fill="#2e2e2e" stroke="#2e2e2e" stroke-width="0.3" textLength="45.9" lengthAdjust="spacingAndGlyphs">LG-M</text>
<text x="337.84" y="1179.6" font-family="'Liberation Sans', 'DejaVu Sans', sans-serif" font-size="18.3" font-weight="normal" text-anchor="middle" fill="#2e2e2e" stroke="#2e2e2e" stroke-width="0.3" textLength="37.68" lengthAdjust="spacingAndGlyphs">LG-F</text>
<text x="406.05" y="1179.6" font-family="'Liberation Sans', 'DejaVu Sans', sans-serif" font-size="18.3" font-weight="normal" text-anchor="middle" fill="#2e2e2e" stroke="#2e2e2e" stroke-width="0.3" textLength="56.07" lengthAdjust="spacingAndGlyphs">SOL-M</text>
<text x="474.26" y="1179.6" font-family="'Liberation Sans', 'DejaVu Sans', sans-serif" font-size="18.3" font-weight="normal" text-anchor="middle" fill="#2e2e2e" stroke="#2e2e2e" stroke-width="0.3" textLength="47.85" lengthAdjust="spacingAndGlyphs">SOL-F</text>
<text x="542.47" y="1179.6" font-family="'Liberation Sans', 'DejaVu Sans', sans-serif" font-size="18.3" font-weight="normal" text-anchor="middle" fill="#2e2e2e" stroke="#2e2e2e" stroke-width="0.3" textLength="55.51" lengthAdjust="spacingAndGlyphs">PF-Pro</text>
<text x="610.68" y="1179.6" font-family="'Liberation Sans', 'DejaVu Sans', sans-serif" font-size="18.3" font-weight="normal" text-anchor="middle" fill="#2e2e2e" stroke="#2e2e2e" stroke-width="0.3" textLength="59.99" lengthAdjust="spacingAndGlyphs">PF-Mid</text>
<text x="678.89" y="1179.6" font-family="'Liberation Sans', 'DejaVu Sans', sans-serif" font-size="18.3" font-weight="normal" text-anchor="middle" fill="#2e2e2e" stroke="#2e2e2e" stroke-width="0.3" textLength="52.23" lengthAdjust="spacingAndGlyphs">PF-Dis</text>
<path d="M114 686.75 V673.75 H160.25 V686.75" fill="none" stroke="#99a2a7" stroke-width="1.2"/>
<text x="138.75" y="664" font-family="'Liberation Sans', 'DejaVu Sans', sans-serif" font-size="18.3" font-weight="normal" text-anchor="middle" fill="#2e2e2e" stroke="#2e2e2e" stroke-width="0.3" textLength="22.93" lengthAdjust="spacingAndGlyphs">NS</text>
<path d="M172.5 686.75 V673.75 H219.75 V686.75" fill="none" stroke="#99a2a7" stroke-width="1.2"/>
<text x="198.75" y="663" font-family="'Liberation Sans', 'DejaVu Sans', sans-serif" font-size="16.5" text-anchor="middle" fill="#2e2e2e" stroke="#2e2e2e" stroke-width="0.7">*</text>
<path d="M250.25 688.5 V675.75 H297 V688.5" fill="none" stroke="#99a2a7" stroke-width="1.2"/>
<text x="265.7 276.3" y="663" font-family="'Liberation Sans', 'DejaVu Sans', sans-serif" font-size="16.5" text-anchor="middle" fill="#2e2e2e" stroke="#2e2e2e" stroke-width="0.7">**</text>
<path d="M311.5 686.75 V673.75 H358.5 V686.75" fill="none" stroke="#99a2a7" stroke-width="1.2"/>
<text x="332.7 343.3" y="663" font-family="'Liberation Sans', 'DejaVu Sans', sans-serif" font-size="16.5" text-anchor="middle" fill="#2e2e2e" stroke="#2e2e2e" stroke-width="0.7">**</text>
<path d="M385.5 687 V673.5 H432 V687" fill="none" stroke="#99a2a7" stroke-width="1.2"/>
<text x="410.5" y="663" font-family="'Liberation Sans', 'DejaVu Sans', sans-serif" font-size="16.5" text-anchor="middle" fill="#2e2e2e" stroke="#2e2e2e" stroke-width="0.7">*</text>
<path d="M449.75 687 V673.5 H495.75 V687" fill="none" stroke="#99a2a7" stroke-width="1.2"/>
<text x="474" y="663" font-family="'Liberation Sans', 'DejaVu Sans', sans-serif" font-size="16.5" text-anchor="middle" fill="#2e2e2e" stroke="#2e2e2e" stroke-width="0.7">*</text>
<path d="M527.25 688.75 V675.75 H574 V688.75" fill="none" stroke="#99a2a7" stroke-width="1.2"/>
<text x="546.5" y="663" font-family="'Liberation Sans', 'DejaVu Sans', sans-serif" font-size="16.5" text-anchor="middle" fill="#2e2e2e" stroke="#2e2e2e" stroke-width="0.7">*</text>
<path d="M594.5 687 V673.5 H641.25 V687" fill="none" stroke="#99a2a7" stroke-width="1.2"/>
<text x="616.75" y="664" font-family="'Liberation Sans', 'DejaVu Sans', sans-serif" font-size="18.3" font-weight="normal" text-anchor="middle" fill="#2e2e2e" stroke="#2e2e2e" stroke-width="0.3" textLength="22.93" lengthAdjust="spacingAndGlyphs">NS</text>
<path d="M667 687 V673.5 H713.5 V687" fill="none" stroke="#99a2a7" stroke-width="1.2"/>
<text x="692.5" y="664" font-family="'Liberation Sans', 'DejaVu Sans', sans-serif" font-size="18.3" font-weight="normal" text-anchor="middle" fill="#2e2e2e" stroke="#2e2e2e" stroke-width="0.3" textLength="22.93" lengthAdjust="spacingAndGlyphs">NS</text>
<rect x="735" y="882" width="12" height="12" fill="#4f81bd"/>
<text x="751.8" y="894.8" font-family="'Liberation Sans', 'DejaVu Sans', sans-serif" font-size="17.7" fill="#2e2e2e" stroke="#2e2e2e" stroke-width="0.3"><tspan textLength="40" lengthAdjust="spacingAndGlyphs">PF50</tspan><tspan dx="1.6" dy="-4.6" font-size="15" fill="#555" stroke="#555">°</tspan></text>
<rect x="735" y="914.3" width="12" height="12" fill="#c0504d"/>
<text x="751.8" y="927.1" font-family="'Liberation Sans', 'DejaVu Sans', sans-serif" font-size="17.7" fill="#2e2e2e" stroke="#2e2e2e" stroke-width="0.3"><tspan textLength="10.19" lengthAdjust="spacingAndGlyphs">0</tspan><tspan dx="1.6" dy="-4.6" font-size="15" fill="#555" stroke="#555">°</tspan></text>
<rect x="735" y="946.6" width="12" height="12" fill="#9bbb59"/>
<text x="751.8" y="959.4" font-family="'Liberation Sans', 'DejaVu Sans', sans-serif" font-size="17.7" fill="#2e2e2e" stroke="#2e2e2e" stroke-width="0.3"><tspan textLength="41.97" lengthAdjust="spacingAndGlyphs">DF25</tspan><tspan dx="1.6" dy="-4.6" font-size="15" fill="#555" stroke="#555">°</tspan></text>
<text transform="translate(327.8 1213.4) scale(0.95 1)" font-family="'Liberation Serif', 'DejaVu Serif', serif" font-size="24.5" font-weight="bold" fill="#111" xml:space="preserve" style="white-space:pre">Muscle<tspan dx="-1.1"> and</tspan><tspan dx="-0.8" letter-spacing="0.36">  Fascia</tspan></text>
<text transform="translate(9.6 926) rotate(90)" font-family="'Liberation Serif', 'DejaVu Serif', serif" font-size="23.3" font-weight="bold" fill="#111" text-anchor="middle" textLength="141.3" lengthAdjust="spacingAndGlyphs">Stiffness(kPa)</text>
<text transform="translate(407.3 1276.4) scale(0.8 1)" font-family="'Liberation Sans', 'DejaVu Sans', sans-serif" font-size="42.5" font-weight="bold" text-anchor="middle" fill="#000">C</text>
</g>
<g id="panel-D">
<line x1="930.4" y1="662.5" x2="930.4" y2="1165.25" stroke="#a4a4a4" stroke-width="1.3"/>
<line x1="922.6" y1="1157.25" x2="1550.75" y2="1157.25" stroke="#a4a4a4" stroke-width="1.3"/>
<line x1="922.6" y1="1086.57" x2="930.4" y2="1086.57" stroke="#a4a4a4" stroke-width="1.3"/>
<line x1="922.6" y1="1015.89" x2="930.4" y2="1015.89" stroke="#a4a4a4" stroke-width="1.3"/>
<line x1="922.6" y1="945.21" x2="930.4" y2="945.21" stroke="#a4a4a4" stroke-width="1.3"/>
<line x1="922.6" y1="874.54" x2="930.4" y2="874.54" stroke="#a4a4a4" stroke-width="1.3"/>
<line x1="922.6" y1="803.86" x2="930.4" y2="803.86" stroke="#a4a4a4" stroke-width="1.3"/>
<line x1="922.6" y1="733.18" x2="930.4" y2="733.18" stroke="#a4a4a4" stroke-width="1.3"/>
<line x1="922.6" y1="662.5" x2="930.4" y2="662.5" stroke="#a4a4a4" stroke-width="1.3"/>
<line x1="1137.18" y1="1157.25" x2="1137.18" y2="1165.25" stroke="#b4b4b4" stroke-width="1.3"/>
<line x1="1343.97" y1="1157.25" x2="1343.97" y2="1165.25" stroke="#b4b4b4" stroke-width="1.3"/>
<line x1="1550.75" y1="1157.25" x2="1550.75" y2="1165.25" stroke="#b4b4b4" stroke-width="1.3"/>
<rect x="965.2" y="962.75" width="45.75" height="195.1" fill="#4f81bd"/>
<rect x="1010.95" y="784.5" width="45.75" height="373.35" fill="#c0504d"/>
<rect x="1056.7" y="733" width="45.75" height="424.85" fill="#9bbb59"/>
<line x1="988.07" y1="931.25" x2="988.07" y2="962.75" stroke="#464646" stroke-width="1.3"/>
<line x1="985.27" y1="931.25" x2="990.87" y2="931.25" stroke="#464646" stroke-width="1.3"/>
<line x1="1033.82" y1="731.25" x2="1033.82" y2="784.5" stroke="#464646" stroke-width="1.3"/>
<line x1="1031.02" y1="731.25" x2="1036.62" y2="731.25" stroke="#464646" stroke-width="1.3"/>
<line x1="1079.57" y1="697.5" x2="1079.57" y2="733" stroke="#464646" stroke-width="1.3"/>
<line x1="1076.77" y1="697.5" x2="1082.37" y2="697.5" stroke="#464646" stroke-width="1.3"/>
<rect x="1171.98" y="930" width="45.75" height="227.85" fill="#4f81bd"/>
<rect x="1217.73" y="767.5" width="45.75" height="390.35" fill="#c0504d"/>
<rect x="1263.48" y="749.25" width="45.75" height="408.6" fill="#9bbb59"/>
<line x1="1194.86" y1="889.75" x2="1194.86" y2="930" stroke="#464646" stroke-width="1.3"/>
<line x1="1192.06" y1="889.75" x2="1197.66" y2="889.75" stroke="#464646" stroke-width="1.3"/>
<line x1="1240.61" y1="702.5" x2="1240.61" y2="767.5" stroke="#464646" stroke-width="1.3"/>
<line x1="1237.81" y1="702.5" x2="1243.41" y2="702.5" stroke="#464646" stroke-width="1.3"/>
<line x1="1286.36" y1="715.75" x2="1286.36" y2="749.25" stroke="#464646" stroke-width="1.3"/>
<line x1="1283.56" y1="715.75" x2="1289.16" y2="715.75" stroke="#464646" stroke-width="1.3"/>
<rect x="1378.77" y="949.25" width="45.75" height="208.6" fill="#4f81bd"/>
<rect x="1424.52" y="820.75" width="45.75" height="337.1" fill="#c0504d"/>
<rect x="1470.27" y="775" width="45.75" height="382.85" fill="#9bbb59"/>
<line x1="1401.64" y1="916.25" x2="1401.64" y2="949.25" stroke="#464646" stroke-width="1.3"/>
<line x1="1398.84" y1="916.25" x2="1404.44" y2="916.25" stroke="#464646" stroke-width="1.3"/>
<line x1="1447.39" y1="746.75" x2="1447.39" y2="820.75" stroke="#464646" stroke-width="1.3"/>
<line x1="1444.59" y1="746.75" x2="1450.19" y2="746.75" stroke="#464646" stroke-width="1.3"/>
<line x1="1493.14" y1="735" x2="1493.14" y2="775" stroke="#464646" stroke-width="1.3"/>
<line x1="1490.34" y1="735" x2="1495.94" y2="735" stroke="#464646" stroke-width="1.3"/>
<text x="910.5" y="1163.25" font-family="'Liberation Sans', 'DejaVu Sans', sans-serif" font-size="18.3" font-weight="normal" text-anchor="end" fill="#2e2e2e" stroke="#2e2e2e" stroke-width="0.3" textLength="10.29" lengthAdjust="spacingAndGlyphs">0</text>
<text x="910.5" y="1092.57" font-family="'Liberation Sans', 'DejaVu Sans', sans-serif" font-size="18.3" font-weight="normal" text-anchor="end" fill="#2e2e2e" stroke="#2e2e2e" stroke-width="0.3" textLength="30.88" lengthAdjust="spacingAndGlyphs">100</text>
<text x="910.5" y="1021.89" font-family="'Liberation Sans', 'DejaVu Sans', sans-serif" font-size="18.3" font-weight="normal" text-anchor="end" fill="#2e2e2e" stroke="#2e2e2e" stroke-width="0.3" textLength="30.88" lengthAdjust="spacingAndGlyphs">200</text>
<text x="910.5" y="951.21" font-family="'Liberation Sans', 'DejaVu Sans', sans-serif" font-size="18.3" font-weight="normal" text-anchor="end" fill="#2e2e2e" stroke="#2e2e2e" stroke-width="0.3" textLength="30.88" lengthAdjust="spacingAndGlyphs">300</text>
<text x="910.5" y="880.54" font-family="'Liberation Sans', 'DejaVu Sans', sans-serif" font-size="18.3" font-weight="normal" text-anchor="end" fill="#2e2e2e" stroke="#2e2e2e" stroke-width="0.3" textLength="30.88" lengthAdjust="spacingAndGlyphs">400</text>
<text x="910.5" y="809.86" font-family="'Liberation Sans', 'DejaVu Sans', sans-serif" font-size="18.3" font-weight="normal" text-anchor="end" fill="#2e2e2e" stroke="#2e2e2e" stroke-width="0.3" textLength="30.88" lengthAdjust="spacingAndGlyphs">500</text>
<text x="910.5" y="739.18" font-family="'Liberation Sans', 'DejaVu Sans', sans-serif" font-size="18.3" font-weight="normal" text-anchor="end" fill="#2e2e2e" stroke="#2e2e2e" stroke-width="0.3" textLength="30.88" lengthAdjust="spacingAndGlyphs">600</text>
<text x="910.5" y="668.5" font-family="'Liberation Sans', 'DejaVu Sans', sans-serif" font-size="18.3" font-weight="normal" text-anchor="end" fill="#2e2e2e" stroke="#2e2e2e" stroke-width="0.3" textLength="30.88" lengthAdjust="spacingAndGlyphs">700</text>
<text x="1033.79" y="1191.1" font-family="'Liberation Sans', 'DejaVu Sans', sans-serif" font-size="18.3" font-weight="normal" text-anchor="middle" fill="#2e2e2e" stroke="#2e2e2e" stroke-width="0.3" textLength="56.26" lengthAdjust="spacingAndGlyphs">AT0cm</text>
<text x="1240.58" y="1191.1" font-family="'Liberation Sans', 'DejaVu Sans', sans-serif" font-size="18.3" font-weight="normal" text-anchor="middle" fill="#2e2e2e" stroke="#2e2e2e" stroke-width="0.3" textLength="56.26" lengthAdjust="spacingAndGlyphs">AT3cm</text>
<text x="1447.36" y="1191.1" font-family="'Liberation Sans', 'DejaVu Sans', sans-serif" font-size="18.3" font-weight="normal" text-anchor="middle" fill="#2e2e2e" stroke="#2e2e2e" stroke-width="0.3" textLength="56.26" lengthAdjust="spacingAndGlyphs">AT6cm</text>
<path d="M951.5 683.75 V658.75 H1109.5 V683.75" fill="none" stroke="#99a2a7" stroke-width="1.2"/>
<text x="1030.3" y="646.5" font-family="'Liberation Sans', 'DejaVu Sans', sans-serif" font-size="16.5" text-anchor="middle" fill="#2e2e2e" stroke="#2e2e2e" stroke-width="0.7">*</text>
<path d="M1161.75 684.5 V658 H1320.5 V684.5" fill="none" stroke="#99a2a7" stroke-width="1.2"/>
<text x="1241.2" y="648.7" font-family="'Liberation Sans', 'DejaVu Sans', sans-serif" font-size="16.5" text-anchor="middle" fill="#2e2e2e" stroke="#2e2e2e" stroke-width="0.7">*</text>
<path d="M1365.75 685 V658 H1524.5 V685" fill="none" stroke="#99a2a7" stroke-width="1.2"/>
<text x="1438.5" y="646.5" font-family="'Liberation Sans', 'DejaVu Sans', sans-serif" font-size="16.5" text-anchor="middle" fill="#2e2e2e" stroke="#2e2e2e" stroke-width="0.7">*</text>
<rect x="1572" y="886.5" width="12" height="12" fill="#4f81bd"/>
<text x="1588.8" y="899.3" font-family="'Liberation Sans', 'DejaVu Sans', sans-serif" font-size="17.7" fill="#2e2e2e" stroke="#2e2e2e" stroke-width="0.3"><tspan textLength="40" lengthAdjust="spacingAndGlyphs">PF50</tspan><tspan dx="1.6" dy="-4.6" font-size="15" fill="#555" stroke="#555">°</tspan></text>
<rect x="1572" y="919" width="12" height="12" fill="#c0504d"/>
<text x="1588.8" y="931.8" font-family="'Liberation Sans', 'DejaVu Sans', sans-serif" font-size="17.7" fill="#2e2e2e" stroke="#2e2e2e" stroke-width="0.3"><tspan textLength="10.19" lengthAdjust="spacingAndGlyphs">0</tspan><tspan dx="1.6" dy="-4.6" font-size="15" fill="#555" stroke="#555">°</tspan></text>
<rect x="1572" y="951.5" width="12" height="12" fill="#9bbb59"/>
<text x="1588.8" y="964.3" font-family="'Liberation Sans', 'DejaVu Sans', sans-serif" font-size="17.7" fill="#2e2e2e" stroke="#2e2e2e" stroke-width="0.3"><tspan textLength="41.97" lengthAdjust="spacingAndGlyphs">DF25</tspan><tspan dx="1.6" dy="-4.6" font-size="15" fill="#555" stroke="#555">°</tspan></text>
<text transform="translate(1228.3 1224.6) scale(0.97 1)" font-family="'Liberation Serif', 'DejaVu Serif', serif" font-size="24.5" font-weight="bold" fill="#111" xml:space="preserve" style="white-space:pre">Tendon</text>
<text transform="translate(846 929) rotate(90)" font-family="'Liberation Serif', 'DejaVu Serif', serif" font-size="23.3" font-weight="bold" fill="#111" text-anchor="middle" textLength="141.3" lengthAdjust="spacingAndGlyphs">Stiffness(kPa)</text>
<text transform="translate(1263.8 1282.9) scale(0.95 1)" font-family="'Liberation Sans', 'DejaVu Sans', sans-serif" font-size="42.5" font-weight="bold" text-anchor="middle" fill="#000">D</text>
</g>
</svg>
</body>
</html>
